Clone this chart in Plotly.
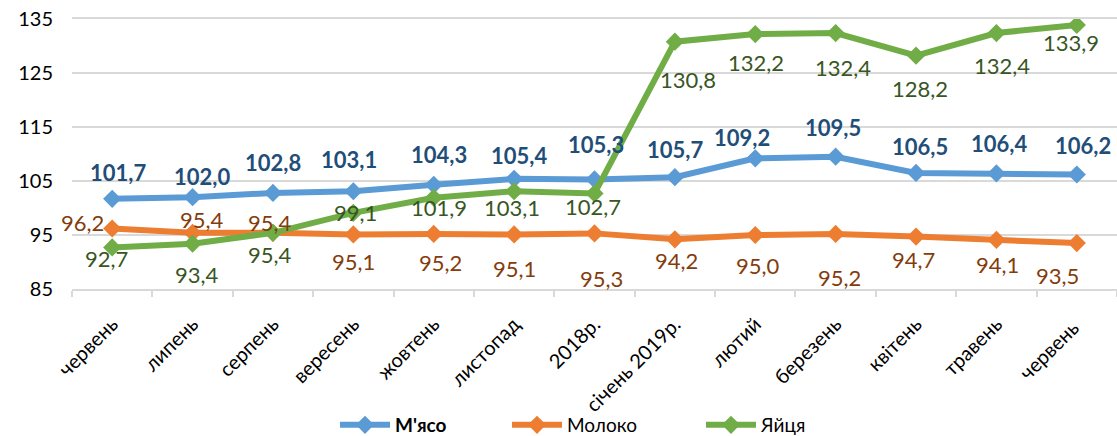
import plotly.graph_objects as go

categories = ["червень", "липень", "серпень", "вересень", "жовтень", "листопад", "2018р.",
              "січень 2019р.", "лютий", "березень", "квітень", "травень", "червень "]
meat = [101.7, 102.0, 102.8, 103.1, 104.3, 105.4, 105.3, 105.7, 109.2, 109.5, 106.5, 106.4, 106.2]
milk = [96.2, 95.4, 95.4, 95.1, 95.2, 95.1, 95.3, 94.2, 95.0, 95.2, 94.7, 94.1, 93.5]
eggs = [92.7, 93.4, 95.4, 99.1, 101.9, 103.1, 102.7, 130.8, 132.2, 132.4, 128.2, 132.4, 133.9]

# label offsets (pixels: dx, dy where dy positive = up)
meat_off = [(6, 26), (9, 21), (0, 30), (-4, 32), (5, 30), (5, 23), (1, 35), (0, 28),
            (-13, 21), (-3, 29), (4, 26), (3, 30), (6, 29)]
milk_off = [(-30, 6), (9, 13), (-3, 10), (0, -27), (7, -29), (0, -34), (7, -45), (2, -21),
            (3, -30), (4, -44), (-3, -23), (1, -25), (-19, -32)]
eggs_off = [(-6, -11), (4, -31), (-3, -22), (2, 0), (5, -10), (-2, -16), (-2, -13), (13, -38),
            (1, -28), (7, -34), (4, -33), (6, -32), (-6, -18)]

FONT = "Lato"
W, H = 1117, 436
series = [
    ("<b>M'ясо</b>", meat, "#5B9BD5", "#1F4E79", True, meat_off, "legend", 335),
    ("Молоко", milk, "#ED7D31", "#843C0C", False, milk_off, "legend2", 507),
    ("Яйця", eggs, "#70AD47", "#375623", False, eggs_off, "legend3", 701),
]

fig = go.Figure()
annotations = []
legends = {}
for name, vals, col, lcol, bold, offs, lg, lx in series:
    fig.add_trace(go.Scatter(
        x=categories, y=vals, name=name, mode="lines+markers",
        line=dict(color=col, width=6),
        marker=dict(symbol="diamond", size=14, color=col),
        legend=lg,
    ))
    legends[lg] = dict(
        orientation="h", xref="container", yref="container",
        x=lx / W, y=(H - 425) / H, xanchor="left", yanchor="middle",
        font=dict(family=FONT, size=19, color="#000000"),
        bgcolor="rgba(0,0,0,0)", itemwidth=50,
    )
    for c, v, (dx, dy) in zip(categories, vals, offs):
        txt = f"{v:.1f}".replace(".", ",")
        if bold:
            txt = f"<b>{txt}</b>"
        annotations.append(dict(
            x=c, y=v, xref="x", yref="y", text=txt, showarrow=False,
            xshift=dx, yshift=dy,
            font=dict(family=FONT, size=22, color=lcol),
        ))

fig.update_layout(
    width=W, height=H,
    margin=dict(l=72, r=0, t=19, b=147),
    paper_bgcolor="white", plot_bgcolor="white",
    font=dict(family=FONT, size=18, color="#000000"),
    annotations=annotations,
    showlegend=True,
    hovermode=False,
    **legends,
)
fig.update_xaxes(
    type="category", range=[-0.5, 12.5], automargin=False,
    showgrid=False, showline=True, mirror=True, linecolor="#D9D9D9", linewidth=1.5,
    ticks="outside", tickson="boundaries", ticklen=6, tickcolor="#D9D9D9", tickwidth=1.5,
    tickangle=-45, ticklabelstandoff=14,
    tickfont=dict(family=FONT, size=20, color="#000000"),
)
fig.update_yaxes(
    range=[85, 135], dtick=10, tick0=85, automargin=False,
    showgrid=True, gridcolor="#D9D9D9", gridwidth=1.5,
    zeroline=False, showline=False, ticks="",
    ticklabelstandoff=18,
    tickfont=dict(family=FONT, size=20, color="#000000"),
)

fig.write_html("out.html", config={"displayModeBar": False},
               post_script="document.body.style.margin='0';document.body.style.overflow='hidden';")
